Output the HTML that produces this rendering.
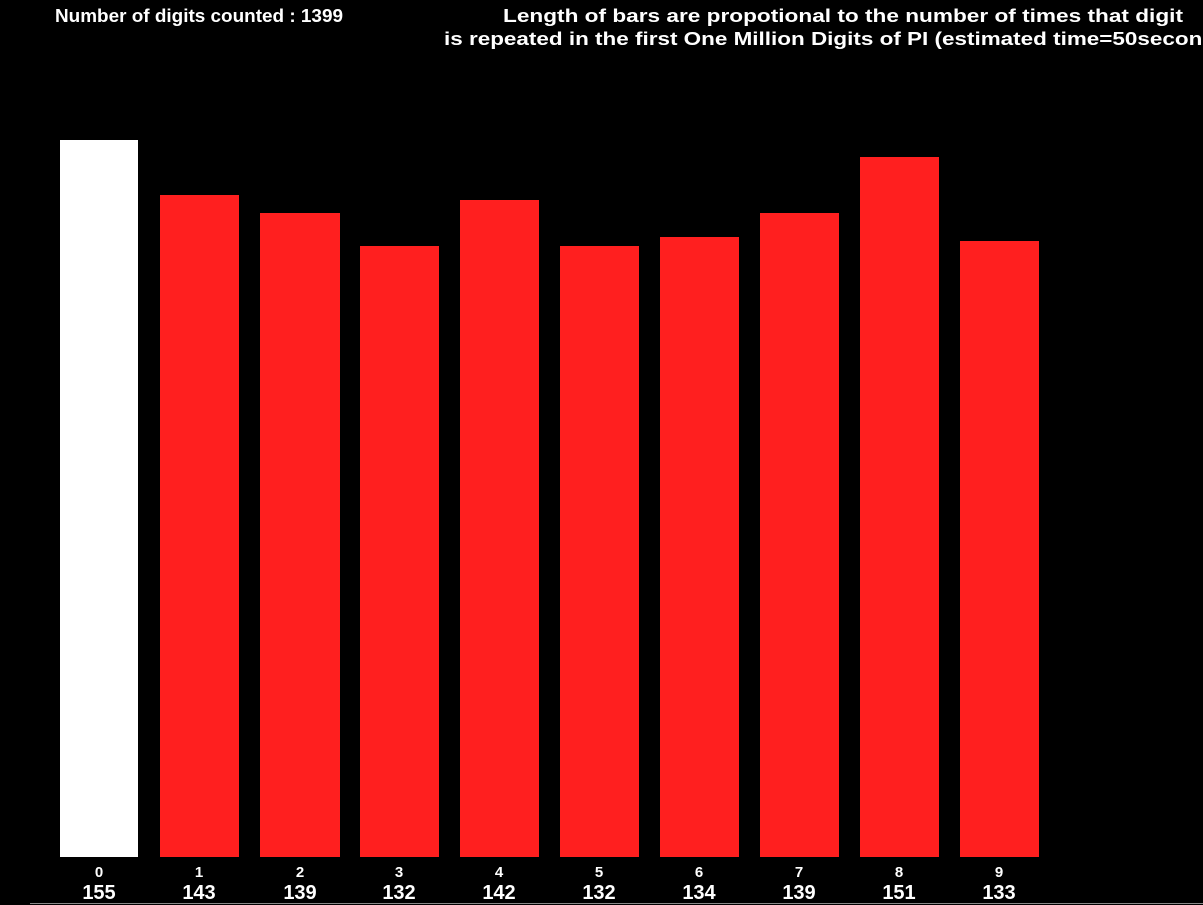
<!DOCTYPE html>
<html><head><style>
html,body{margin:0;padding:0;background:#000;overflow:hidden}
svg{display:block}
text{font-family:"Liberation Sans",sans-serif;font-weight:bold;fill:#fff}
</style></head><body>
<svg width="1203" height="905" viewBox="0 0 1203 905">
<rect width="1203" height="905" fill="#000"/>
<text x="55" y="22" font-size="18" textLength="288" lengthAdjust="spacingAndGlyphs">Number of digits counted : 1399</text>
<text x="503" y="22" font-size="18" textLength="680" lengthAdjust="spacingAndGlyphs">Length of bars are propotional to the number of times that digit</text>
<text x="444" y="45" font-size="18" textLength="792" lengthAdjust="spacingAndGlyphs">is repeated in the first One Million Digits of PI (estimated time=50seconds)</text>
<rect x="60" y="140" width="78" height="717" fill="#fff"/>
<g fill="#ff1f1f">
<rect x="160" y="195" width="79" height="662"/>
<rect x="260" y="213" width="80" height="644"/>
<rect x="360" y="246" width="79" height="611"/>
<rect x="460" y="200" width="79" height="657"/>
<rect x="560" y="246" width="79" height="611"/>
<rect x="660" y="237" width="79" height="620"/>
<rect x="760" y="213" width="79" height="644"/>
<rect x="860" y="157" width="79" height="700"/>
<rect x="960" y="241" width="79" height="616"/>
</g>
<g text-anchor="middle">
<g font-size="15">
<text x="99" y="877">0</text><text x="199" y="877">1</text><text x="300" y="877">2</text><text x="399" y="877">3</text><text x="499" y="877">4</text><text x="599" y="877">5</text><text x="699" y="877">6</text><text x="799" y="877">7</text><text x="899" y="877">8</text><text x="999" y="877">9</text>
</g>
<g font-size="20">
<text x="99" y="899">155</text><text x="199" y="899">143</text><text x="300" y="899">139</text><text x="399" y="899">132</text><text x="499" y="899">142</text><text x="599" y="899">132</text><text x="699" y="899">134</text><text x="799" y="899">139</text><text x="899" y="899">151</text><text x="999" y="899">133</text>
</g>
</g>
<line x1="30" y1="903.5" x2="1203" y2="903.5" stroke="#888" stroke-width="1"/>
</svg>
</body></html>
